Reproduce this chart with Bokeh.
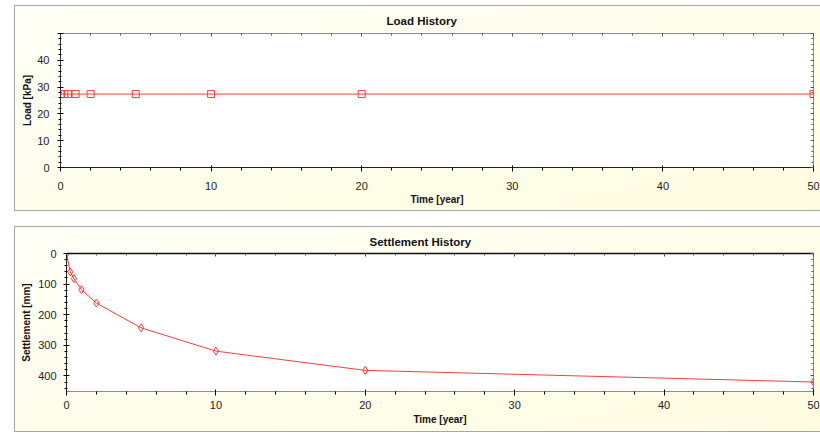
from bokeh.plotting import figure
from bokeh.models import Range1d, LinearAxis, SingleIntervalTicker, CustomJSTickFormatter
from bokeh.layouts import column
from bokeh.embed import file_html
from bokeh.resources import INLINE

# ---- data ----
time_years = [0, 0.25, 0.5, 1, 2, 5, 10, 20, 50]
load_kpa = [27.4, 27.4, 27.4, 27.4, 27.4, 27.4, 27.4, 27.4, 27.4]
settlement_mm = [0, 60, 82, 118, 162, 243, 319, 382, 420]

FONT = "Liberation Sans"
RED = "#ff3b3b"


def box_style(top):
    return {
        "background": "linear-gradient(to bottom right, #fffff7, #fefce0)",
        "border": "1px solid #a6a6a6",
        "border-right": "none",
        "box-sizing": "border-box",
        "margin": f"{top}px 0px 0px 14px",
    }


def base_fig(y_range, left, top, bottom, title, title_offset, title_standoff, margin_top):
    p = figure(width=806, height=206, x_range=Range1d(0, 50), y_range=y_range,
               output_backend="svg", toolbar_location=None,
               min_border_left=left, min_border_right=8, min_border_top=top,
               min_border_bottom=bottom, background_fill_color="white",
               border_fill_alpha=0, outline_line_color="#8c8c8c")
    p.frame_align = False
    p.grid.visible = False
    p.styles = box_style(margin_top)
    p.title.text = title
    p.title.align = "left"
    p.title.offset = title_offset
    p.title.text_font = FONT
    p.title.text_font_size = "11.5px"
    p.title.text_font_style = "bold"
    p.title.text_color = "#111111"
    p.title.standoff = title_standoff
    return p


def style_common(ax):
    ax.major_label_text_font = FONT
    ax.major_label_text_font_size = "11px"
    ax.major_label_text_color = "#222222"
    ax.axis_label_text_font = FONT
    ax.axis_label_text_font_size = "10px"
    ax.axis_label_text_font_style = "bold"
    ax.axis_label_text_color = "#111111"


def mirror_axis(interval, minor, line_color=None, line_width=1):
    ax = LinearAxis(ticker=SingleIntervalTicker(interval=interval, num_minor_ticks=minor),
                    formatter=CustomJSTickFormatter(code="return ''"),
                    major_label_standoff=0,
                    major_tick_out=0, major_tick_in=3, minor_tick_out=0, minor_tick_in=2,
                    major_tick_line_color="#555555", minor_tick_line_color="#555555",
                    axis_line_color=line_color, axis_line_width=line_width)
    return ax


# ---- Load History ----
p1 = base_fig(Range1d(0, 50), 45, 27, 45, "Load History", 326, 13, 5)
xa = p1.xaxis[0]
xa.ticker = SingleIntervalTicker(interval=10, num_minor_ticks=5)
xa.axis_label = "Time [year]"
style_common(xa)
xa.major_tick_out, xa.major_tick_in = 4, 2
xa.minor_tick_out, xa.minor_tick_in = 3, 0
xa.major_label_standoff = 10
xa.axis_label_standoff = 1
xa.axis_line_color = "#222222"
ya = p1.yaxis[0]
ya.ticker = SingleIntervalTicker(interval=10, num_minor_ticks=5)
ya.major_label_overrides = {50: ""}
ya.axis_label = "Load [kPa]"
style_common(ya)
ya.major_tick_out, ya.major_tick_in = 3, 3
ya.minor_tick_out, ya.minor_tick_in = 2, 1
ya.major_label_standoff = 8
ya.axis_label_standoff = 1
ya.axis_line_color = "#333333"
p1.add_layout(mirror_axis(10, 5), "right")
p1.add_layout(mirror_axis(10, 5), "above")

p1.line(time_years, load_kpa, line_color=RED, line_width=1)
p1.scatter(time_years, load_kpa, marker="square", size=7, fill_color=None,
           line_color=RED, line_width=1)

# ---- Settlement History ----
p2 = base_fig(Range1d(451, 0), 51, 26, 42, "Settlement History", 303, 11, 15)
xb = p2.xaxis[0]
xb.ticker = SingleIntervalTicker(interval=10, num_minor_ticks=5)
xb.axis_label = "Time [year]"
style_common(xb)
xb.major_tick_out, xb.major_tick_in = 4, 2
xb.minor_tick_out, xb.minor_tick_in = 3, 0
xb.major_label_standoff = 5
xb.axis_label_standoff = 2
xb.axis_line_color = "#8c8c8c"
yb = p2.yaxis[0]
yb.ticker = SingleIntervalTicker(interval=100, num_minor_ticks=5)
yb.axis_label = "Settlement [mm]"
style_common(yb)
yb.major_tick_out, yb.major_tick_in = 3, 3
yb.minor_tick_out, yb.minor_tick_in = 2, 1
yb.major_label_standoff = 7
yb.axis_label_standoff = 3
yb.axis_line_color = "#222222"
p2.add_layout(mirror_axis(100, 5), "right")
p2.add_layout(mirror_axis(10, 5, line_color="#111111", line_width=1.5), "above")

p2.line(time_years, settlement_mm, line_color=RED, line_width=1)
p2.scatter(time_years, settlement_mm, marker="diamond", size=8, fill_color=None,
           line_color=RED, line_width=1)

layout = column(p1, p2, spacing=0)
open("out.html", "w").write(file_html(layout, INLINE))
